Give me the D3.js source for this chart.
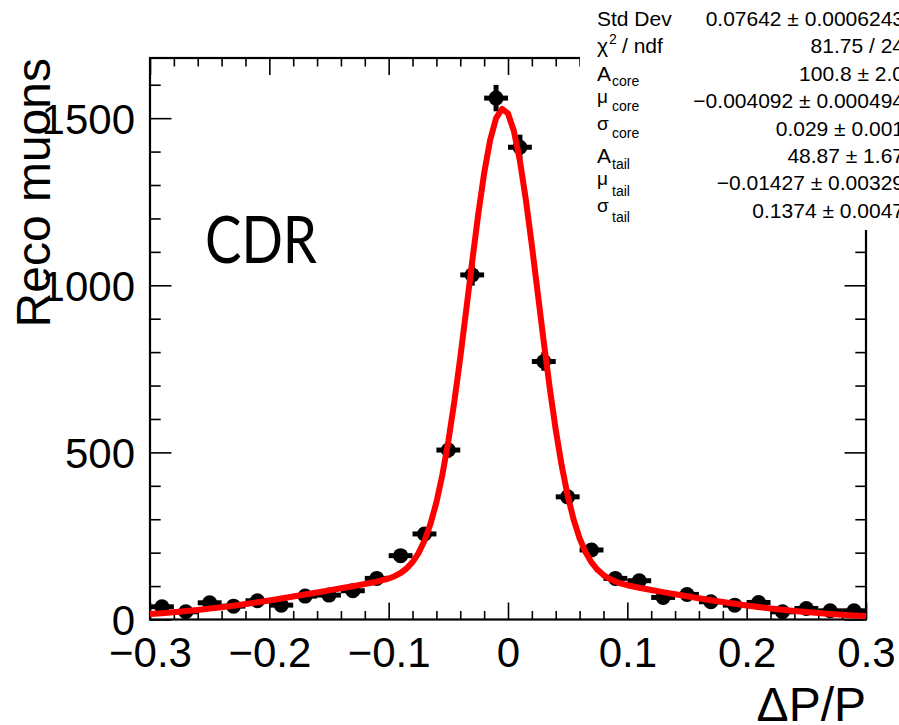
<!DOCTYPE html>
<html>
<head>
<meta charset="utf-8">
<script src="https://cdn.jsdelivr.net/npm/d3@7"></script>
<style>
  body { margin: 0; background: #fff; }
  svg { display: block; font-family: "Liberation Sans", Arial, Helvetica, sans-serif; }
</style>
</head>
<body>
<div id="chart"></div>
<script>
var width = 899;
var height = 725;

// histogram: bin centres (dP/P) and counts
var binCenters = [-0.29, -0.27, -0.25, -0.23, -0.21, -0.19, -0.17, -0.15, -0.13, -0.11,
  -0.09, -0.07, -0.05, -0.03, -0.01, 0.01, 0.03, 0.05, 0.07, 0.09,
  0.11, 0.13, 0.15, 0.17, 0.19, 0.21, 0.23, 0.25, 0.27, 0.29];
var counts = [38, 23, 50, 40, 56, 43, 70, 73, 86, 123,
  191, 256, 507, 1031, 1560, 1413, 772, 367, 208, 123,
  116, 66, 75, 53, 43, 51, 23, 33, 26, 26];
var binHalf = 0.01;

// fitted curve
var fitX = [-0.30, -0.29, -0.28, -0.27, -0.26, -0.25, -0.24, -0.23, -0.22, -0.21,
  -0.20, -0.19, -0.18, -0.17, -0.16, -0.15, -0.14, -0.13, -0.12, -0.11,
  -0.10, -0.095, -0.09, -0.085, -0.08, -0.075, -0.07, -0.065, -0.06, -0.055,
  -0.05, -0.045, -0.04, -0.035, -0.03, -0.025, -0.02, -0.015, -0.01, -0.005,
  0, 0.005, 0.01, 0.015, 0.02, 0.025, 0.03, 0.035, 0.04, 0.045,
  0.05, 0.055, 0.06, 0.065, 0.07, 0.075, 0.08, 0.085, 0.09, 0.095,
  0.10, 0.11, 0.12, 0.13, 0.14, 0.15, 0.16, 0.17, 0.18, 0.19,
  0.20, 0.21, 0.22, 0.23, 0.24, 0.25, 0.26, 0.27, 0.28, 0.29, 0.30];
var fitY = [16.3, 18.9, 21.9, 25.1, 28.7, 32.6, 36.8, 41.4, 46.3, 51.4,
  56.9, 62.6, 68.6, 74.7, 80.9, 87.1, 93.4, 99.6, 106.0, 113.1,
  122.7, 129.6, 139.1, 152.6, 171.7, 198.5, 235.5, 285.4, 350.5, 432.8,
  533.3, 651.1, 783.7, 926.1, 1071.4, 1210.8, 1334.8, 1433.9, 1500.0, 1527.6,
  1514.1, 1460.7, 1372.0, 1255.2, 1119.6, 974.6, 829.6, 692.1, 567.8, 460.2,
  370.7, 298.9, 243.2, 201.3, 170.6, 148.5, 132.8, 121.7, 113.6, 107.5,
  102.6, 94.9, 88.1, 81.8, 75.6, 69.4, 63.5, 57.7, 52.2, 47.0,
  42.1, 37.5, 33.2, 29.2, 25.6, 22.3, 19.4, 16.7, 14.3, 12.2, 10.4];

var xMajor = [-0.3, -0.2, -0.1, 0, 0.1, 0.2, 0.3];
var xLabels = ["\u22120.3", "\u22120.2", "\u22120.1", "0", "0.1", "0.2", "0.3"];
var xMinor = [-0.28, -0.26, -0.24, -0.22, -0.18, -0.16, -0.14, -0.12, -0.08, -0.06, -0.04, -0.02,
  0.02, 0.04, 0.06, 0.08, 0.12, 0.14, 0.16, 0.18, 0.22, 0.24, 0.26, 0.28];
var yMajor = [0, 500, 1000, 1500];
var yMinor = [100, 200, 300, 400, 600, 700, 800, 900, 1100, 1200, 1300, 1400, 1600];

var statMain = ["Std Dev", "\u03c7", "A", "\u03bc", "\u03c3", "A", "\u03bc", "\u03c3"];
var statSub = ["", "", "core", "core", "core", "tail", "tail", "tail"];
var statValues = ["0.07642 \u00b1 0.0006243", "81.75 / 24", "100.8 \u00b1 2.0",
  "\u22120.004092 \u00b1 0.000494", "0.029 \u00b1 0.001", "48.87 \u00b1 1.67",
  "\u22120.01427 \u00b1 0.00329", "0.1374 \u00b1 0.0047"];

var frameL = 150, frameR = 866, frameT = 58, frameB = 619.5;

var x = d3.scaleLinear().domain([-0.3, 0.3]).range([frameL, frameR]);
var y = d3.scaleLinear().domain([0, 1680]).range([frameB, frameT]);

var svg = d3.select("#chart")
  .append("svg")
  .attr("width", width)
  .attr("height", height);

svg.append("rect").attr("width", width).attr("height", height).attr("fill", "#fff");

// ticks (inside the frame, both sides)
function tickStyle(g) {
  g.select(".domain").remove();
  g.selectAll(".tick line").attr("stroke", "#000").attr("stroke-width", 1.6);
}

svg.append("g")
  .attr("transform", "translate(0," + frameB + ")")
  .call(d3.axisBottom(x).tickValues(xMajor).tickSize(-17).tickPadding(18)
    .tickFormat(function(d, i) { return xLabels[i]; }))
  .call(tickStyle)
  .selectAll("text")
    .attr("font-size", 42)
    .attr("font-family", "Liberation Sans, Arial, sans-serif")
    .attr("fill", "#000");

svg.append("g")
  .attr("transform", "translate(0," + frameB + ")")
  .call(d3.axisBottom(x).tickValues(xMinor).tickSize(-8.5).tickFormat(""))
  .call(tickStyle);

svg.append("g")
  .attr("transform", "translate(0," + frameT + ")")
  .call(d3.axisTop(x).tickValues(xMajor).tickSize(-17).tickFormat(""))
  .call(tickStyle);

svg.append("g")
  .attr("transform", "translate(0," + frameT + ")")
  .call(d3.axisTop(x).tickValues(xMinor).tickSize(-8.5).tickFormat(""))
  .call(tickStyle);

svg.append("g")
  .attr("transform", "translate(" + frameL + ",0)")
  .call(d3.axisLeft(y).tickValues(yMajor).tickSize(-21.5).tickPadding(15)
    .tickFormat(d3.format("d")))
  .call(tickStyle)
  .selectAll("text")
    .attr("font-size", 42)
    .attr("font-family", "Liberation Sans, Arial, sans-serif")
    .attr("fill", "#000")
    .attr("dy", "0.36em");

svg.append("g")
  .attr("transform", "translate(" + frameL + ",0)")
  .call(d3.axisLeft(y).tickValues(yMinor).tickSize(-10.7).tickFormat(""))
  .call(tickStyle);

svg.append("g")
  .attr("transform", "translate(" + frameR + ",0)")
  .call(d3.axisRight(y).tickValues(yMajor).tickSize(-21.5).tickFormat(""))
  .call(tickStyle);

svg.append("g")
  .attr("transform", "translate(" + frameR + ",0)")
  .call(d3.axisRight(y).tickValues(yMinor).tickSize(-10.7).tickFormat(""))
  .call(tickStyle);

// frame
svg.append("rect")
  .attr("x", frameL).attr("y", frameT)
  .attr("width", frameR - frameL).attr("height", frameB - frameT)
  .attr("fill", "none").attr("stroke", "#000").attr("stroke-width", 2.2);

// data points with error bars
var pts = svg.append("g").selectAll("g")
  .data(d3.zip(binCenters, counts))
  .enter()
  .append("g");

pts.append("line")
  .attr("x1", function(d) { return x(d[0] - binHalf); })
  .attr("x2", function(d) { return x(d[0] + binHalf); })
  .attr("y1", function(d) { return y(d[1]); })
  .attr("y2", function(d) { return y(d[1]); })
  .attr("stroke", "#000").attr("stroke-width", 5);

pts.append("line")
  .attr("x1", function(d) { return x(d[0]); })
  .attr("x2", function(d) { return x(d[0]); })
  .attr("y1", function(d) { return y(d[1] - Math.sqrt(d[1])); })
  .attr("y2", function(d) { return y(d[1] + Math.sqrt(d[1])); })
  .attr("stroke", "#000").attr("stroke-width", 5);

pts.append("circle")
  .attr("cx", function(d) { return x(d[0]); })
  .attr("cy", function(d) { return y(d[1]); })
  .attr("r", 7.5)
  .attr("fill", "#000");

// fit
var line = d3.line()
  .x(function(d) { return x(d[0]); })
  .y(function(d) { return y(d[1]); });

svg.append("path")
  .datum(d3.zip(fitX, fitY))
  .attr("d", line)
  .attr("fill", "none")
  .attr("stroke", "#ff0000")
  .attr("stroke-width", 6)
  .attr("stroke-linejoin", "round");

// axis titles
svg.append("text")
  .attr("transform", "translate(50," + frameT + ") rotate(-90)")
  .attr("text-anchor", "end")
  .attr("font-size", 48)
  .text("Reco muons");

svg.append("text")
  .attr("x", frameR).attr("y", 721)
  .attr("text-anchor", "end")
  .attr("font-size", 48)
  .text("\u0394P/P");

svg.append("text")
  .attr("x", 205).attr("y", 263)
  .attr("font-family", "Lato, 'Open Sans', sans-serif")
  .attr("font-size", 66)
  .attr("textLength", 112)
  .attr("lengthAdjust", "spacingAndGlyphs")
  .text("CDR");

// stats box
svg.append("rect")
  .attr("x", 580).attr("y", -2)
  .attr("width", 330).attr("height", 232)
  .attr("fill", "#fff");

var stats = svg.append("g").attr("font-size", 21).attr("fill", "#000");
var rowY0 = 26, rowStep = 27.4;
var mainShift = [0, 0, 0, -5, -5.5, 0, -5, -5.5];
var subShift = [0, 0, 5.5, 3, 2, 5.5, 6, 4];

statValues.forEach(function(v, i) {
  var by = rowY0 + i * rowStep;
  stats.append("text")
    .attr("x", 904).attr("y", by)
    .attr("text-anchor", "end")
    .text(v);

  stats.append("text")
    .attr("x", 597).attr("y", by + mainShift[i])
    .attr("font-size", i >= 3 && statMain[i] !== "A" ? 19 : 21)
    .text(statMain[i]);

  if (statSub[i]) {
    stats.append("text")
      .attr("x", 612).attr("y", by + subShift[i])
      .attr("font-size", 14)
      .text(statSub[i]);
  }
});

// chi2 / ndf pieces
stats.append("text")
  .attr("x", 609).attr("y", rowY0 + rowStep - 9)
  .attr("font-size", 14)
  .text("2");
stats.append("text")
  .attr("x", 622).attr("y", rowY0 + rowStep)
  .text("/ ndf");
</script>
</body>
</html>
